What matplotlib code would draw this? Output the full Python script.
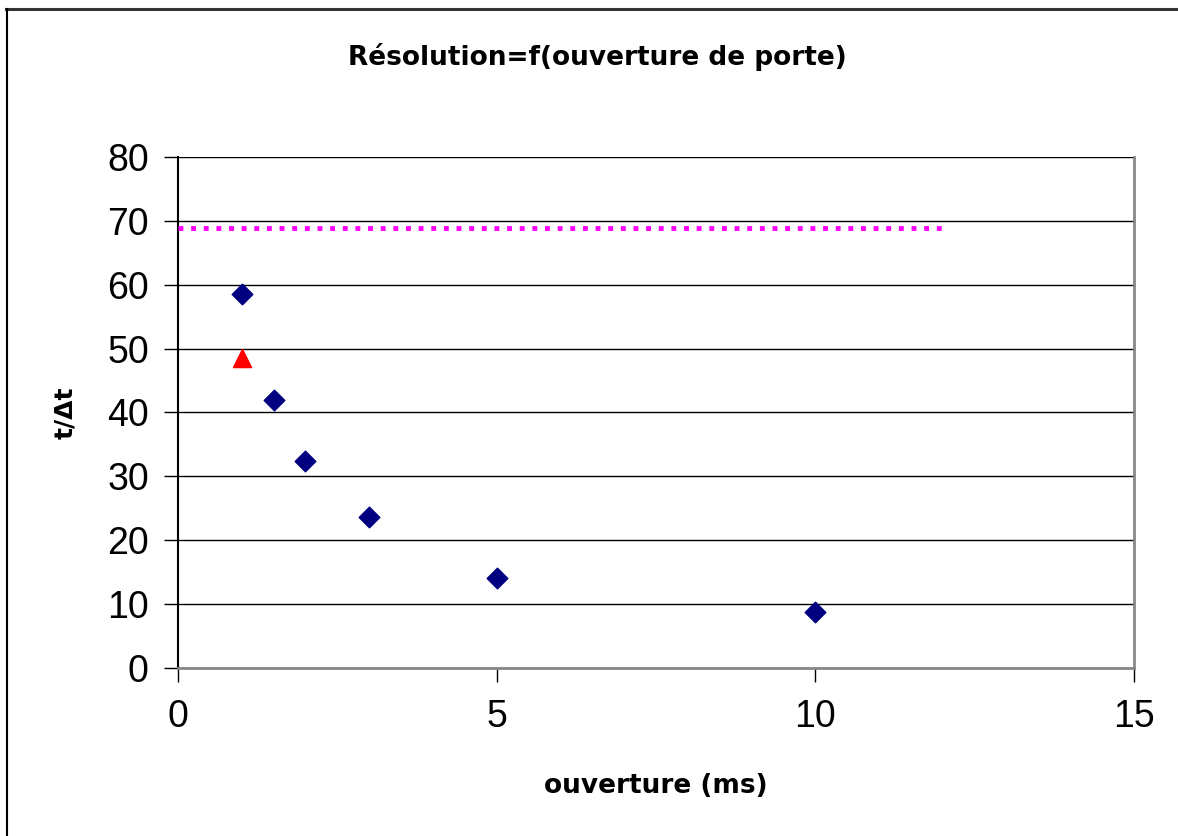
import matplotlib
matplotlib.use('Agg')
import matplotlib.pyplot as plt
from matplotlib.lines import Line2D

plt.rcParams['font.family'] = ['Liberation Sans', 'DejaVu Sans']

# données
ouverture = [1, 1.5, 2, 3, 5, 10]
resolution = [58.5, 42, 32.4, 23.6, 14.1, 8.8]
ouverture_tri = [1]
resolution_tri = [48.5]
limite_x = [0, 12]
limite_y = [68.9, 68.9]

fig = plt.figure(figsize=(11.78, 8.36), dpi=100)
# cadre du graphique (seulement haut et gauche visibles)
fig.lines.append(Line2D([0.0055, 0.9985], [0.9895, 0.9895], transform=fig.transFigure,
                        color='#333333', linewidth=2.2))
fig.lines.append(Line2D([0.0063, 0.0063], [0.0, 0.9895], transform=fig.transFigure,
                        color='black', linewidth=1.5))
ax = fig.add_axes([0.1511, 0.201, 0.8115, 0.6112])

ax.plot(limite_x, limite_y, color='#FF00FF', linestyle=(0, (1, 1.6)), linewidth=3.5, zorder=3)
ax.scatter(ouverture, resolution, marker='D', s=110, color='#000080', zorder=4)
ax.scatter(ouverture_tri, resolution_tri, marker='^', s=170, color='#FF0000', zorder=4)

ax.set_xlim(0, 15)
ax.set_ylim(0, 80)
ax.set_xticks([0, 5, 10, 15])
ax.set_yticks(range(0, 81, 10))
ax.yaxis.grid(True, color='black', linewidth=1)
ax.set_axisbelow(True)
ax.tick_params(axis='both', labelsize=27, direction='out', length=10, width=1)
ax.tick_params(axis='x', pad=12)
ax.tick_params(axis='y', pad=11)
ax.spines['top'].set_visible(False)
ax.spines['right'].set_color('#888888')
ax.spines['right'].set_linewidth(2)
ax.spines['bottom'].set_color('#888888')
ax.spines['bottom'].set_linewidth(2)
ax.spines['left'].set_linewidth(1.5)

ax.set_title('Résolution=f(ouverture de porte)', fontsize=19, fontweight='bold',
             family='DejaVu Sans', pad=66, x=0.439)
ax.set_xlabel('ouverture (ms)', fontsize=19, fontweight='bold', family='DejaVu Sans')
ax.set_ylabel('t/Δt', fontsize=18, fontweight='bold', family='DejaVu Sans')
ax.xaxis.set_label_coords(0.5, -0.205)
ax.yaxis.set_label_coords(-0.106, 0.5)

fig.savefig('out.png', dpi=100)
